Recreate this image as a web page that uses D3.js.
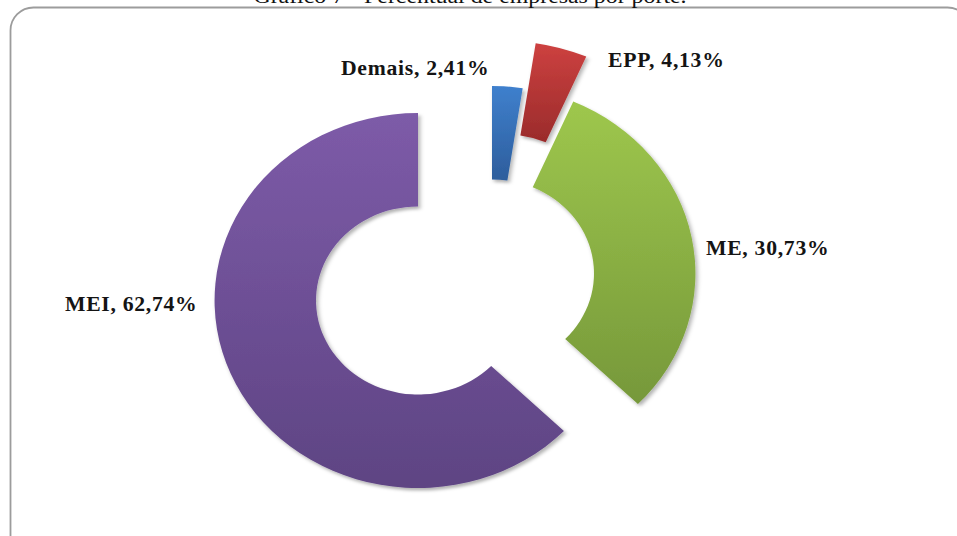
<!DOCTYPE html>
<html>
<head>
<meta charset="utf-8">
<script src="https://cdn.jsdelivr.net/npm/d3@7"></script>
<style>
	html, body { margin:0 ; padding:0 ; background:#fff ; }
	svg { display:block ; }
	.lbl { font-family:"Liberation Serif","Times New Roman",serif ; font-weight:bold ; font-size:20px ; fill:#141414 ; letter-spacing:0.65px ; }
	.title { font-family:"Liberation Serif","Times New Roman",serif ; font-size:22px ; fill:#111 ; }
</style>
</head>
<body>
<svg id="chart" width="957" height="536"></svg>
<script>

// data - slices go clockwise from 12 o'clock
const categories = [ "Demais", "EPP", "ME", "MEI" ] ;
const shares = [ 2.41, 4.13, 30.73, 62.74 ] ;
const shareLabels = [ "2,41%", "4,13%", "30,73%", "62,74%" ] ;
const titleText = "Gráfico 7 - Percentual de empresas por porte." ;

// styles
const topColors = [ "#3f80cd", "#cd4140", "#9ec74d", "#7d5ba8" ] ;
const bottomColors = [ "#2d5d9c", "#9a2b2b", "#76983a", "#5e4483" ] ;
// slice shift in screen px (the three small ones are pulled out together, EPP further)
const explode = [ [74,-27], [87,-72], [74,-27], [0,0] ] ;
// label anchor relative to the donut centre
const labelShift = [ [-77,-226], [190,-234], [288,-46], [-353,10] ] ;

const width = 957, height = 536 ;
const cx = 418, cy = 300.5 ;
const sx = 1.085 ;		// the page was scanned a bit wider than tall
const outerR = 187.5, innerR = 94 ;

const svg = d3.select("#chart") ;

// frame
svg.append("rect")
	.attr("x", 10.5).attr("y", 7.5)
	.attr("width", 960).attr("height", 560)
	.attr("rx", 23).attr("ry", 23)
	.attr("fill", "none")
	.attr("stroke", "#9c9c9c")
	.attr("stroke-width", 1.8) ;

// title, mostly cut off at the top like in the scan
svg.append("text")
	.attr("class", "title")
	.attr("text-anchor", "middle")
	.attr("transform", "translate(470,3) scale(" + sx + ",1)")
	.text(titleText) ;

const defs = svg.append("defs") ;

const shadow = defs.append("filter")
	.attr("id", "shadow")
	.attr("x", "-10%").attr("y", "-10%")
	.attr("width", "130%").attr("height", "130%") ;
shadow.append("feDropShadow")
	.attr("dx", 2).attr("dy", 2.5)
	.attr("stdDeviation", 1.8)
	.attr("flood-color", "#000")
	.attr("flood-opacity", 0.3) ;

categories.forEach(function(c, i) {
	const g = defs.append("linearGradient")
		.attr("id", "grad" + i)
		.attr("x1", 0).attr("y1", 0).attr("x2", 0).attr("y2", 1) ;
	g.append("stop").attr("offset", "0%").attr("stop-color", topColors[i]) ;
	g.append("stop").attr("offset", "100%").attr("stop-color", bottomColors[i]) ;
}) ;

const pie = d3.pie()
	.sort(null)
	.value(function(d) { return d ; }) ;

const arc = d3.arc()
	.innerRadius(innerR)
	.outerRadius(outerR) ;

const arcs = pie(shares) ;

svg.selectAll("g.slice")
	.data(arcs)
	.enter().append("g")
		.attr("class", "slice")
		.attr("filter", "url(#shadow)")
		.attr("transform", function(d, i) {
			return "translate(" + (cx + explode[i][0]) + "," + (cy + explode[i][1]) + ") scale(" + sx + ",1)" ;
		})
	.append("path")
		.attr("d", arc)
		.attr("fill", function(d, i) { return "url(#grad" + i + ")" ; }) ;

svg.selectAll("text.lbl")
	.data(arcs)
	.enter().append("text")
		.attr("class", "lbl")
		.attr("transform", function(d, i) {
			return "translate(" + (cx + labelShift[i][0]) + "," + (cy + labelShift[i][1]) + ") scale(" + sx + ",1)" ;
		})
		.text(function(d, i) { return categories[i] + ", " + shareLabels[i] ; }) ;

</script>
</body>
</html>
